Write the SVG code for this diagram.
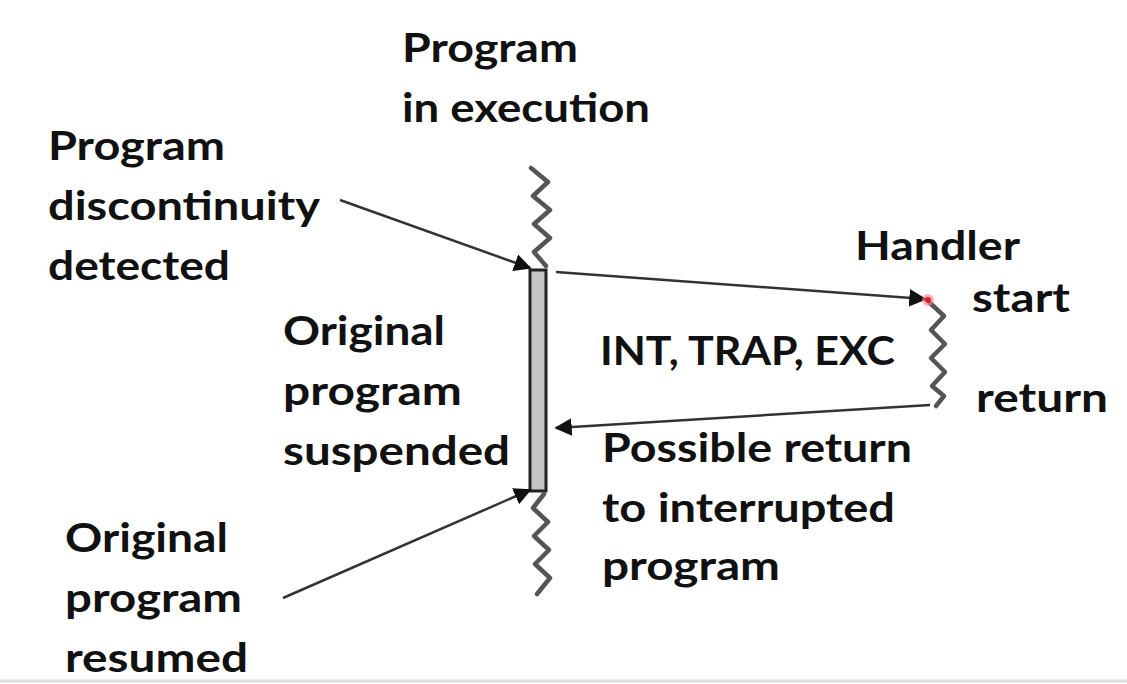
<svg xmlns="http://www.w3.org/2000/svg" width="1127" height="684" viewBox="0 0 1127 684">
<style>
text{font-family:Lato,"Open Sans","Liberation Sans",sans-serif;font-weight:bold;font-size:41px;fill:#111}
.sq{fill:none;stroke:#555;stroke-width:4.5;stroke-linejoin:round;stroke-linecap:round}
.ar{fill:none;stroke:#333;stroke-width:2.5}
</style>
<defs>
<marker id="ah" viewBox="0 0 10 10" refX="9" refY="5" markerWidth="7" markerHeight="7" orient="auto" markerUnits="strokeWidth">
<path d="M0,0 L10,5 L0,10 z" fill="#111"/>
</marker>
</defs>
<rect width="1127" height="684" fill="#fff"/>
<line x1="0" y1="681" x2="1127" y2="681" stroke="#ddd" stroke-width="3"/>
<g id="program-bar">
<rect x="530" y="270" width="16" height="221" fill="#c4c4c4" stroke="#222" stroke-width="3"/>
</g>
<g id="squiggles">
<path class="sq" d="M531,168 L548,182 L533,196 L550,210 L534,224 L550,238 L534,252 L546,266"/>
<path class="sq" d="M544,494 L533,508 L548,522 L534,536 L549,550 L535,564 L550,578 L537,594"/>
<path class="sq" d="M930,303 L944,316 L931,330 L945,344 L931,358 L945,372 L932,386 L944,396 L936,406"/>
</g>
<g id="connectors">
<line class="ar" x1="340" y1="200" x2="530" y2="268" marker-end="url(#ah)"/>
<line class="ar" x1="556" y1="272" x2="925" y2="299" marker-end="url(#ah)"/>
<line class="ar" x1="930" y1="405" x2="556" y2="428" marker-end="url(#ah)"/>
<line class="ar" x1="283" y1="598" x2="530" y2="490" marker-end="url(#ah)"/>
</g>
<circle cx="928" cy="300" r="6" fill="#ff8080" opacity="0.6"/>
<circle cx="928" cy="300" r="3" fill="#e0203a"/>
<g id="label-exec"><text x="402" y="62" textLength="176" lengthAdjust="spacingAndGlyphs">Program</text><text x="402" y="122" textLength="248" lengthAdjust="spacingAndGlyphs">in execution</text></g>
<g id="label-disc"><text x="48" y="160" textLength="177" lengthAdjust="spacingAndGlyphs">Program</text><text x="48" y="220" textLength="272" lengthAdjust="spacingAndGlyphs">discontinuity</text><text x="48" y="280" textLength="182" lengthAdjust="spacingAndGlyphs">detected</text></g>
<g id="label-handler"><text x="855" y="260" textLength="165" lengthAdjust="spacingAndGlyphs">Handler</text><text x="972" y="312" textLength="98" lengthAdjust="spacingAndGlyphs">start</text><text x="976" y="412" textLength="132" lengthAdjust="spacingAndGlyphs">return</text></g>
<g id="label-susp"><text x="283" y="345" textLength="162" lengthAdjust="spacingAndGlyphs">Original</text><text x="283" y="405" textLength="179" lengthAdjust="spacingAndGlyphs">program</text><text x="283" y="465" textLength="227" lengthAdjust="spacingAndGlyphs">suspended</text></g>
<g id="label-int"><text x="600" y="365" textLength="295" lengthAdjust="spacingAndGlyphs">INT, TRAP, EXC</text></g>
<g id="label-ret"><text x="602" y="462" textLength="310" lengthAdjust="spacingAndGlyphs">Possible return</text><text x="602" y="522" textLength="293" lengthAdjust="spacingAndGlyphs">to interrupted</text><text x="602" y="580" textLength="178" lengthAdjust="spacingAndGlyphs">program</text></g>
<g id="label-resumed"><text x="65" y="552" textLength="163" lengthAdjust="spacingAndGlyphs">Original</text><text x="65" y="612" textLength="177" lengthAdjust="spacingAndGlyphs">program</text><text x="65" y="672" textLength="183" lengthAdjust="spacingAndGlyphs">resumed</text></g>
</svg>
